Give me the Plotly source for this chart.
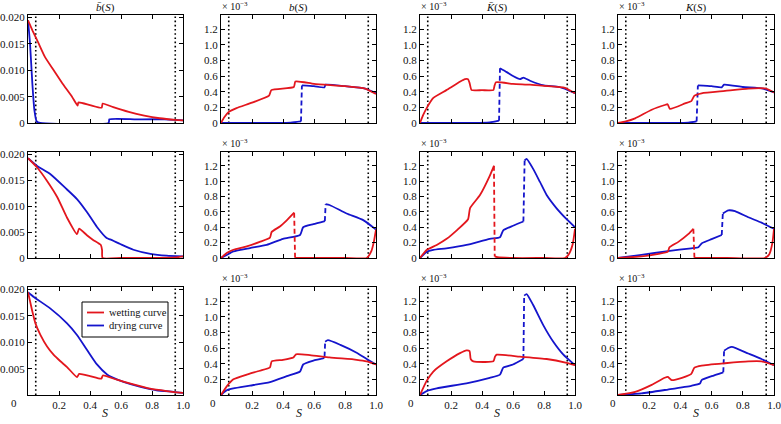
import plotly.graph_objects as go

# ---------------- data ----------------
S_LIMITS = [0.05, 0.95]          # dotted vertical lines
X_TICKS = [0, 0.2, 0.4, 0.6, 0.8, 1.0]
X_TICK_TEXT = ["", "0.2", "0.4", "0.6", "0.8", "1.0"]   # the corner "0" is drawn separately
BBAR_TICKS = [0, 0.005, 0.010, 0.015, 0.020]
BBAR_TICK_TEXT = ["0", "0.005", "0.010", "0.015", "0.020"]
SMALL_TICKS = [0, 0.2, 0.4, 0.6, 0.8, 1.0, 1.2]          # x 10^-3
SMALL_TICK_TEXT = ["0", "0.2", "0.4", "0.6", "0.8", "1.0", "1.2"]
TITLES = ["<i>b\u0304</i>(<i>S</i>)", "<i>b</i>(<i>S</i>)", "<i>K\u0304</i>(<i>S</i>)", "<i>K</i>(<i>S</i>)"]
SERIES_NAMES = ["wetting curve", "drying curve"]

# None marks a jump drawn as a dashed connector
# ---- row 1 ----
BBAR_R1_WET_S = [0, 0.03, 0.07, 0.11, 0.166, 0.22, 0.284, 0.32, 0.325, 0.40, 0.475, 0.482, 0.55, 0.65, 0.75, 0.85, 0.95, 1.0]
BBAR_R1_WET_V = [0.0195, 0.0175, 0.0150, 0.0125, 0.0100, 0.0076, 0.0050, 0.0033, 0.0039, 0.0034, 0.0029, 0.0037, 0.0030, 0.0021, 0.0014, 0.0009, 0.0006, 0.0005]
BBAR_R1_DRY_S = [0, 0.013, 0.028, 0.041, 0.056, 0.078, 0.52, 0.525, 0.70, 0.88, 0.95, 1.0]
BBAR_R1_DRY_V = [0.0195, 0.0151, 0.0075, 0.0025, 0.0003, 0, 0, 0.0007, 0.0007, 0.0007, 0.0006, 0.0005]

B_R1_WET_S = [0, 0.02, 0.05, 0.10, 0.20, 0.31, 0.325, 0.47, 0.48, 0.60, 0.80, 0.93, 1.0]
B_R1_WET_V = [0, 0.07, 0.14, 0.19, 0.26, 0.35, 0.42, 0.46, 0.53, 0.50, 0.47, 0.44, 0.37]
B_R1_DRY_S = [0, 0.30, 0.45, 0.516, None, 0.522, 0.60, 0.667, 0.675, 0.80, 0.93, 1.0]
B_R1_DRY_V = [0, 0, 0.005, 0.02, None, 0.48, 0.47, 0.455, 0.49, 0.47, 0.44, 0.38]

KBAR_R1_WET_S = [0, 0.02, 0.043, 0.086, 0.17, 0.26, 0.29, 0.31, 0.32, 0.333, 0.40, 0.473, 0.48, 0.49, 0.60, 0.71, 0.80, 0.935, 1.0]
KBAR_R1_WET_V = [0, 0.10, 0.19, 0.32, 0.42, 0.53, 0.56, 0.56, 0.51, 0.42, 0.42, 0.42, 0.47, 0.52, 0.50, 0.49, 0.475, 0.45, 0.38]
KBAR_R1_DRY_S = [0, 0.30, 0.45, 0.51, None, 0.516, 0.56, 0.60, 0.645, 0.667, 0.71, 0.80, 0.90, 1.0]
KBAR_R1_DRY_V = [0, 0, 0.008, 0.03, None, 0.70, 0.65, 0.60, 0.56, 0.58, 0.54, 0.48, 0.46, 0.38]

K_R1_WET_S = [0, 0.05, 0.11, 0.216, 0.30, 0.318, 0.333, 0.43, 0.47, 0.49, 0.536, 0.686, 0.835, 0.95, 1.0]
K_R1_WET_V = [0, 0.02, 0.06, 0.17, 0.23, 0.24, 0.18, 0.25, 0.28, 0.35, 0.38, 0.41, 0.44, 0.44, 0.39]
K_R1_DRY_S = [0, 0.30, 0.45, 0.504, None, 0.512, 0.60, 0.665, 0.68, 0.80, 0.93, 1.0]
K_R1_DRY_V = [0, 0, 0.005, 0.02, None, 0.48, 0.47, 0.455, 0.49, 0.46, 0.44, 0.39]

# ---- row 2 ----
BBAR_R2_WET_S = [0, 0.059, 0.123, 0.19, 0.25, 0.316, 0.33, 0.38, 0.42, 0.47, 0.478, 0.481, 0.60, 0.80, 0.95, 1.0]
BBAR_R2_WET_V = [0.0193, 0.0175, 0.0149, 0.0117, 0.0079, 0.0046, 0.0057, 0.0044, 0.0035, 0.0025, 0.0015, 0, 0, 0, 0.0001, 0.0003]
BBAR_R2_DRY_S = [0, 0.059, 0.145, 0.25, 0.316, 0.38, 0.445, 0.51, 0.53, 0.595, 0.68, 0.79, 0.895, 1.0]
BBAR_R2_DRY_V = [0.0193, 0.0178, 0.0162, 0.0133, 0.0114, 0.0089, 0.0060, 0.0038, 0.0036, 0.0027, 0.0016, 0.0008, 0.00044, 0.0003]

B_R2_WET_S = [0, 0.037, 0.08, 0.166, 0.25, 0.316, 0.327, 0.38, 0.424, 0.472, None, 0.478, 0.60, 0.80, 0.94, 0.97, 0.985, 1.0]
B_R2_WET_V = [0, 0.064, 0.107, 0.15, 0.21, 0.266, 0.34, 0.41, 0.49, 0.59, None, 0, 0, 0, 0, 0.09, 0.20, 0.37]
B_R2_DRY_S = [0, 0.037, 0.08, 0.187, 0.295, 0.40, 0.51, 0.53, 0.596, 0.67, None, 0.675, 0.70, 0.81, 0.92, 1.0]
B_R2_DRY_V = [0, 0.04, 0.086, 0.13, 0.17, 0.25, 0.30, 0.40, 0.44, 0.48, None, 0.70, 0.69, 0.58, 0.49, 0.37]

KBAR_R2_WET_S = [0, 0.043, 0.108, 0.172, 0.237, 0.31, 0.323, 0.387, 0.45, 0.477, None, 0.482, 0.50, 0.60, 0.80, 0.935, 0.96, 0.985, 1.0]
KBAR_R2_WET_V = [0, 0.105, 0.17, 0.25, 0.36, 0.505, 0.65, 0.82, 1.07, 1.20, None, 0.02, 0.01, 0, 0, 0, 0.05, 0.18, 0.38]
KBAR_R2_DRY_S = [0, 0.043, 0.086, 0.17, 0.30, 0.45, 0.516, 0.537, 0.60, 0.667, None, 0.675, 0.688, 0.73, 0.774, 0.817, 0.88, 0.946, 1.0]
KBAR_R2_DRY_V = [0, 0.08, 0.105, 0.126, 0.17, 0.25, 0.27, 0.36, 0.42, 0.475, None, 1.27, 1.29, 1.16, 0.99, 0.82, 0.65, 0.505, 0.40]

K_R2_WET_S = [0, 0.15, 0.26, 0.32, 0.33, 0.387, 0.45, 0.483, None, 0.49, 0.70, 0.94, 0.97, 0.99, 1.0]
K_R2_WET_V = [0, 0.02, 0.055, 0.084, 0.14, 0.21, 0.31, 0.38, None, 0, 0, 0, 0.05, 0.20, 0.38]
K_R2_DRY_S = [0, 0.15, 0.32, 0.47, 0.515, 0.536, 0.60, 0.665, None, 0.672, 0.707, 0.75, 0.835, 0.92, 1.0]
K_R2_DRY_V = [0, 0.04, 0.09, 0.126, 0.14, 0.19, 0.245, 0.30, None, 0.58, 0.62, 0.61, 0.53, 0.46, 0.38]

# ---- row 3 ----
BBAR_R3_WET_S = [0, 0.027, 0.048, 0.08, 0.123, 0.166, 0.209, 0.252, 0.316, 0.33, 0.40, 0.473, 0.483, 0.573, 0.68, 0.788, 0.895, 1.0]
BBAR_R3_WET_V = [0.0195, 0.0160, 0.0136, 0.0114, 0.0092, 0.0076, 0.0064, 0.0053, 0.0034, 0.0040, 0.0036, 0.0031, 0.0037, 0.0029, 0.0020, 0.0012, 0.00075, 0.0004]
BBAR_R3_DRY_S = [0, 0.0375, 0.145, 0.252, 0.316, 0.38, 0.445, 0.51, 0.54, 0.616, 0.72, 0.83, 0.94, 1.0]
BBAR_R3_DRY_V = [0.0195, 0.0186, 0.0164, 0.0136, 0.0114, 0.0086, 0.0058, 0.0039, 0.0034, 0.0025, 0.0016, 0.0009, 0.0006, 0.0004]

B_R3_WET_S = [0, 0.037, 0.08, 0.166, 0.25, 0.316, 0.327, 0.40, 0.467, 0.484, 0.574, 0.70, 0.875, 0.94, 1.0]
B_R3_WET_V = [0, 0.11, 0.20, 0.26, 0.31, 0.354, 0.43, 0.45, 0.48, 0.52, 0.51, 0.48, 0.45, 0.43, 0.39]
B_R3_DRY_S = [0, 0.037, 0.08, 0.187, 0.316, 0.424, 0.51, 0.53, 0.596, 0.66, 0.668, None, 0.672, 0.69, 0.77, 0.875, 0.94, 1.0]
B_R3_DRY_V = [0, 0.06, 0.084, 0.12, 0.165, 0.24, 0.30, 0.39, 0.44, 0.47, 0.49, None, 0.68, 0.70, 0.64, 0.54, 0.46, 0.39]

KBAR_R3_WET_S = [0, 0.043, 0.086, 0.172, 0.258, 0.30, 0.32, 0.327, 0.344, 0.473, 0.484, 0.495, 0.645, 0.817, 0.946, 1.0]
KBAR_R3_WET_V = [0, 0.18, 0.30, 0.43, 0.535, 0.57, 0.56, 0.46, 0.43, 0.43, 0.49, 0.515, 0.49, 0.46, 0.41, 0.38]
KBAR_R3_DRY_S = [0, 0.043, 0.108, 0.30, 0.45, 0.516, 0.537, 0.60, 0.667, None, 0.672, 0.688, 0.73, 0.796, 0.86, 0.925, 1.0]
KBAR_R3_DRY_V = [0, 0.05, 0.085, 0.15, 0.22, 0.26, 0.35, 0.39, 0.46, None, 1.27, 1.29, 1.15, 0.89, 0.68, 0.515, 0.38]

K_R3_WET_S = [0, 0.11, 0.216, 0.30, 0.32, 0.344, 0.41, 0.47, 0.49, 0.536, 0.686, 0.835, 0.92, 1.0]
K_R3_WET_V = [0, 0.04, 0.13, 0.22, 0.23, 0.19, 0.22, 0.27, 0.35, 0.376, 0.406, 0.43, 0.43, 0.38]
K_R3_DRY_S = [0, 0.15, 0.32, 0.47, 0.525, 0.536, 0.60, 0.675, None, 0.68, 0.707, 0.73, 0.835, 0.92, 1.0]
K_R3_DRY_V = [0, 0.02, 0.07, 0.117, 0.146, 0.19, 0.24, 0.29, None, 0.565, 0.60, 0.615, 0.53, 0.46, 0.38]

PANELS = [
    [(BBAR_R1_WET_S, BBAR_R1_WET_V, BBAR_R1_DRY_S, BBAR_R1_DRY_V),
     (B_R1_WET_S, B_R1_WET_V, B_R1_DRY_S, B_R1_DRY_V),
     (KBAR_R1_WET_S, KBAR_R1_WET_V, KBAR_R1_DRY_S, KBAR_R1_DRY_V),
     (K_R1_WET_S, K_R1_WET_V, K_R1_DRY_S, K_R1_DRY_V)],
    [(BBAR_R2_WET_S, BBAR_R2_WET_V, BBAR_R2_DRY_S, BBAR_R2_DRY_V),
     (B_R2_WET_S, B_R2_WET_V, B_R2_DRY_S, B_R2_DRY_V),
     (KBAR_R2_WET_S, KBAR_R2_WET_V, KBAR_R2_DRY_S, KBAR_R2_DRY_V),
     (K_R2_WET_S, K_R2_WET_V, K_R2_DRY_S, K_R2_DRY_V)],
    [(BBAR_R3_WET_S, BBAR_R3_WET_V, BBAR_R3_DRY_S, BBAR_R3_DRY_V),
     (B_R3_WET_S, B_R3_WET_V, B_R3_DRY_S, B_R3_DRY_V),
     (KBAR_R3_WET_S, KBAR_R3_WET_V, KBAR_R3_DRY_S, KBAR_R3_DRY_V),
     (K_R3_WET_S, K_R3_WET_V, K_R3_DRY_S, K_R3_DRY_V)],
]

# ---------------- layout / style ----------------
W, H = 781, 424
COL_PX = [(28, 183), (221, 376), (420, 575), (618, 774)]
ROW_PX = [(15, 123), (152, 258), (287, 395)]
ZERO_LABEL_SHIFT = [-14, -8, -9, -5]     # corner "0" sits left of the origin
Y_RANGE_BBAR = [0, 0.0205]
Y_RANGE_SMALL = [0, 1.38]
RED = "#e3161d"
BLUE = "#1414cc"
FONT = "Liberation Serif"
LW = 1.8
LEGEND_BOX = (82, 302, 168, 337)   # px: left, top, right, bottom


def px_x(p):
    return p / W


def px_y(p):
    return 1 - p / H


def segments(S, V):
    segs, cs, cv = [], [], []
    for s, v in zip(S, V):
        if s is None:
            segs.append((cs, cv))
            cs, cv = [], []
        else:
            cs.append(s)
            cv.append(v)
    segs.append((cs, cv))
    return segs


fig = go.Figure()

for r in range(3):
    for c in range(4):
        idx = r * 4 + c + 1
        xa = "x" if idx == 1 else f"x{idx}"
        ya = "y" if idx == 1 else f"y{idx}"
        wS, wV, dS, dV = PANELS[r][c]
        for S, V, col, series in [(dS, dV, BLUE, 1), (wS, wV, RED, 0)]:
            segs = segments(S, V)
            for j, (ss, vv) in enumerate(segs):
                fig.add_trace(go.Scatter(
                    x=ss, y=vv, mode="lines", xaxis=xa, yaxis=ya,
                    line=dict(color=col, width=LW, shape="spline", smoothing=0.5),
                    name=SERIES_NAMES[series], showlegend=False, hoverinfo="skip"))
                if j + 1 < len(segs):
                    ns, nv = segs[j + 1]
                    fig.add_trace(go.Scatter(
                        x=[ss[-1], ns[0]], y=[vv[-1], nv[0]], mode="lines",
                        xaxis=xa, yaxis=ya, showlegend=False, hoverinfo="skip",
                        line=dict(color=col, width=LW, dash="5px,3px")))
        for sl in S_LIMITS:
            fig.add_shape(type="line", x0=sl, x1=sl, y0=0, y1=1,
                          xref=xa, yref=f"{ya} domain", layer="below",
                          line=dict(color="black", width=1.6, dash="1.6px,2.6px"))

        xd = [px_x(COL_PX[c][0]), px_x(COL_PX[c][1])]
        yd = [px_y(ROW_PX[r][1]), px_y(ROW_PX[r][0])]
        common = dict(showline=True, linecolor="black", linewidth=1, mirror="ticks",
                      ticks="inside", ticklen=4, tickcolor="black", showgrid=False,
                      zeroline=False, automargin=False, ticklabeloverflow="allow",
                      tickfont=dict(family=FONT, size=11, color="#111"))
        xkey = "xaxis" if idx == 1 else f"xaxis{idx}"
        ykey = "yaxis" if idx == 1 else f"yaxis{idx}"
        fig.layout[xkey] = dict(domain=xd, range=[0, 1], anchor=ya,
                                tickvals=X_TICKS, ticktext=X_TICK_TEXT,
                                showticklabels=(r == 2), **common)
        if c == 0:
            tv, tt, yr = BBAR_TICKS, BBAR_TICK_TEXT, Y_RANGE_BBAR
        else:
            tv, tt, yr = SMALL_TICKS, SMALL_TICK_TEXT, Y_RANGE_SMALL
        if r == 2:
            tv, tt = tv[1:], tt[1:]
        fig.layout[ykey] = dict(domain=yd, range=yr, anchor=xa,
                                tickvals=tv, ticktext=tt, **common)

        if c > 0:
            fig.add_annotation(text="\u00d7 10<sup>\u22123</sup>", xref="paper", yref="paper",
                               x=px_x(COL_PX[c][0] - 1), y=px_y(ROW_PX[r][0] - 1),
                               xanchor="left", yanchor="bottom", showarrow=False,
                               font=dict(family=FONT, size=10, color="#111"))

for c in range(4):
    cx = px_x((COL_PX[c][0] + COL_PX[c][1]) / 2)
    fig.add_annotation(text=TITLES[c], xref="paper", yref="paper", x=cx, y=px_y(8),
                       xanchor="center", yanchor="middle", showarrow=False,
                       font=dict(family=FONT, size=11, color="#111"))
    fig.add_annotation(text="<i>S</i>", xref="paper", yref="paper", x=cx, y=px_y(413),
                       xanchor="center", yanchor="middle", showarrow=False,
                       font=dict(family=FONT, size=12, color="#111"))
    # corner "0" of the bottom-row x axes
    fig.add_annotation(text="0", xref="paper", yref="paper",
                       x=px_x(COL_PX[c][0] + ZERO_LABEL_SHIFT[c]), y=px_y(403),
                       xanchor="center", yanchor="middle", showarrow=False,
                       font=dict(family=FONT, size=11, color="#111"))

# hand-made compact legend (as in the reference)
lx0, ly0, lx1, ly1 = LEGEND_BOX
fig.add_shape(type="rect", xref="paper", yref="paper",
              x0=px_x(lx0), x1=px_x(lx1), y0=px_y(ly1), y1=px_y(ly0),
              line=dict(color="black", width=1), fillcolor="white", layer="above")
for k, (name, col) in enumerate(zip(SERIES_NAMES, [RED, BLUE])):
    yy = ly0 + 10.5 + k * 13
    fig.add_shape(type="line", xref="paper", yref="paper",
                  x0=px_x(lx0 + 5), x1=px_x(lx0 + 22), y0=px_y(yy), y1=px_y(yy),
                  line=dict(color=col, width=LW), layer="above")
    fig.add_annotation(text=name, xref="paper", yref="paper", x=px_x(lx0 + 25), y=px_y(yy),
                       xanchor="left", yanchor="middle", showarrow=False,
                       font=dict(family=FONT, size=10.5, color="#111"))

fig.update_layout(
    width=W, height=H, template="none", showlegend=False,
    margin=dict(l=0, r=0, t=0, b=0),
    paper_bgcolor="white", plot_bgcolor="white",
)

fig.write_html("out.html", config={"displayModeBar": False},
               post_script="document.body.style.margin='0';document.body.style.overflow='hidden';")
